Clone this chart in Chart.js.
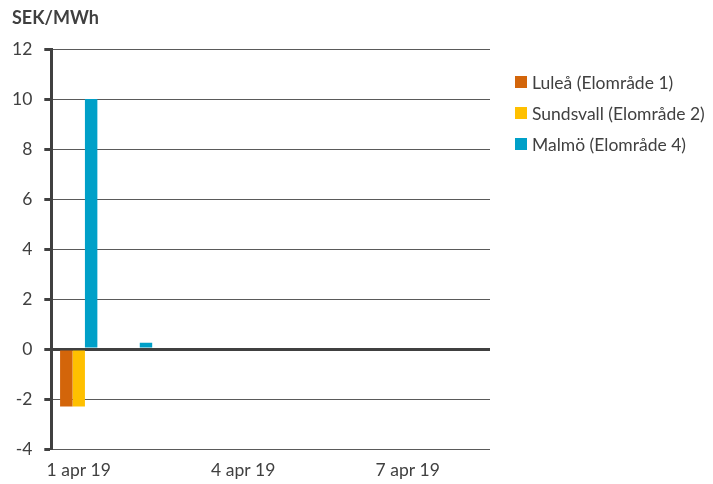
<!DOCTYPE html>
<html>
<head>
<meta charset="utf-8">
<script src="https://cdn.jsdelivr.net/npm/chart.js@4"></script>
<style>
  html, body { margin: 0; padding: 0; background: #fff; }
  #wrap { position: relative; width: 713px; height: 484px; }
  #titel {
    position: absolute; left: 12px; top: 6px;
    font: bold 18px Lato, sans-serif; color: #404040;
  }
  #legend { position: absolute; left: 515px; top: 0; }
  .rad { position: absolute; left: 0; height: 24px; display: flex; align-items: center; white-space: nowrap; }
  .ruta { width: 12px; height: 12px; margin-right: 5px; }
  .rad span { font: 17.5px Lato, sans-serif; color: #404040; }
</style>
</head>
<body>
<div id="wrap">
  <canvas id="graf"></canvas>
  <div id="titel">SEK/MWh</div>
  <div id="legend"></div>
</div>
<script>
// Dagar (kategorier)
const dagar = ["1 apr 19", "2 apr 19", "3 apr 19", "4 apr 19", "5 apr 19", "6 apr 19", "7 apr 19", "8 apr 19"];
// Värden i SEK/MWh
const lulea = [-2.3, 0, 0, 0, 0, 0, 0, 0];
const sundsvall = [-2.3, 0, 0, 0, 0, 0, 0, 0];
const malmo = [10, 0.25, 0, 0, 0, 0, 0, 0];

const textFarg = "#404040";
const font = "Lato";

const diagram = new Chart(document.getElementById("graf"), {
  type: "bar",
  data: {
    labels: dagar,
    datasets: [
      { label: "Luleå (Elområde 1)", data: lulea, backgroundColor: "#D3650A" },
      { label: "Sundsvall (Elområde 2)", data: sundsvall, backgroundColor: "#FFC000" },
      { label: "Malmö (Elområde 4)", data: malmo, backgroundColor: "#00A0C8" },
    ],
  },
  options: {
    responsive: true,
    maintainAspectRatio: false,
    animation: false,
    layout: { padding: { left: 0, right: 223, top: 49, bottom: 0 } },
    datasets: {
      bar: { categoryPercentage: 0.68, barPercentage: 1.0, borderWidth: 0 },
    },
    plugins: {
      legend: { display: false },
      tooltip: { enabled: false },
    },
    scales: {
      x: {
        grid: { display: false },
        border: { display: false },
        ticks: {
          autoSkip: false,
          maxRotation: 0,
          color: textFarg,
          font: { family: font, size: 17.5 },
          // visa var tredje dag
          callback: function (val, i) {
            return i % 3 === 0 ? dagar[i] : "";
          },
        },
      },
      y: {
        min: -4,
        max: 12,
        ticks: {
          stepSize: 2,
          color: textFarg,
          padding: 12,
          font: { family: font, size: 17.5 },
        },
        border: { display: true, color: textFarg, width: 3 },
        grid: {
          color: (ctx) => (ctx.tick && ctx.tick.value === 0 ? "#404040" : "#5a5a5a"),
          lineWidth: (ctx) => (ctx.tick && ctx.tick.value === 0 ? 3 : 1),
          tickColor: textFarg,
          tickWidth: 3,
          tickLength: 7,
        },
      },
    },
  },
});

// Egen legend till höger
const legend = document.getElementById("legend");
diagram.data.datasets.forEach((ds, i) => {
  const rad = document.createElement("div");
  rad.classList.add("rad");
  rad.style.top = 82 + i * 31 - 12 + "px";
  const ruta = document.createElement("div");
  ruta.classList.add("ruta");
  ruta.style.background = ds.backgroundColor;
  const txt = document.createElement("span");
  txt.textContent = ds.label;
  rad.appendChild(ruta);
  rad.appendChild(txt);
  legend.appendChild(rad);
});
</script>
</body>
</html>
